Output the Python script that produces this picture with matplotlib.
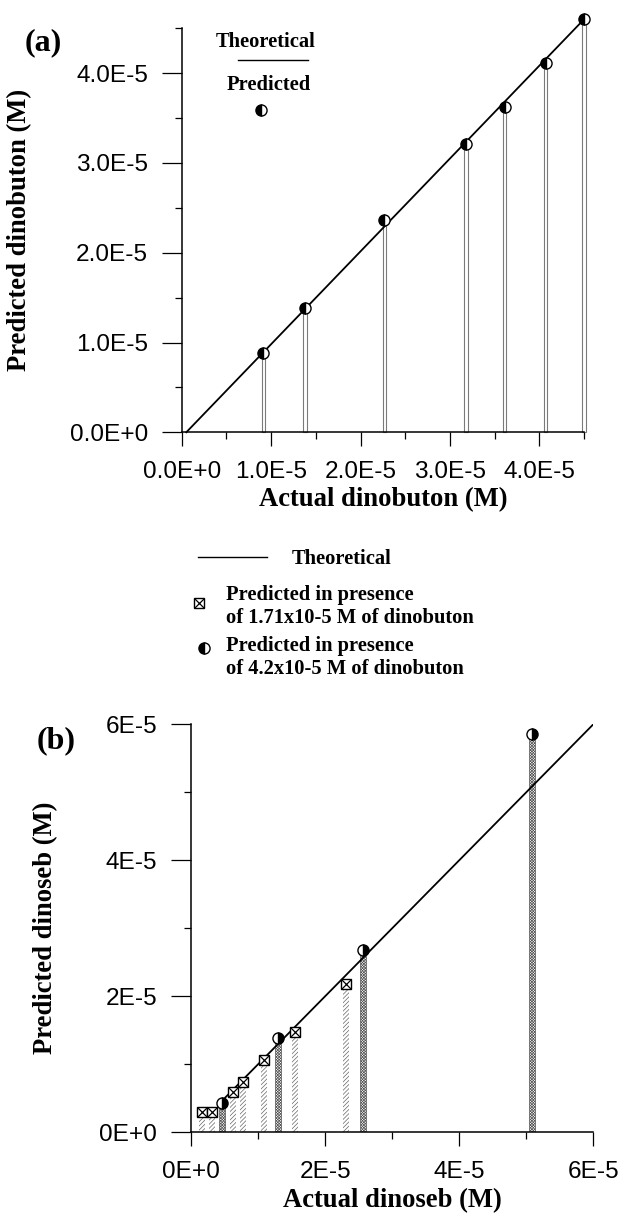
import numpy as np
import matplotlib
matplotlib.use("Agg")
import matplotlib.pyplot as plt
from matplotlib.ticker import FuncFormatter, MultipleLocator

# ---------------- data ----------------
# panel (a): dinobuton
a_actual = np.array([0.913, 1.378, 2.264, 3.18, 3.615, 4.07, 4.50]) * 1e-5
a_pred = np.array([0.88, 1.38, 2.365, 3.21, 3.625, 4.115, 4.605]) * 1e-5
a_theo_x = np.array([0.05, 4.50]) * 1e-5
a_theo_y = np.array([0.0, 4.60]) * 1e-5

# panel (b): dinoseb
b_sq_actual = np.array([0.16, 0.32, 0.63, 0.78, 1.09, 1.555, 2.31]) * 1e-5
b_sq_pred = np.array([0.30, 0.30, 0.59, 0.74, 1.07, 1.48, 2.18]) * 1e-5
b_ci_actual = np.array([0.46, 1.30, 2.57, 5.09]) * 1e-5
b_ci_pred = np.array([0.43, 1.38, 2.68, 5.86]) * 1e-5
b_theo_x = np.array([0.45, 6.0]) * 1e-5
b_theo_y = np.array([0.45, 6.0]) * 1e-5

a_label_x = "Actual dinobuton (M)"
a_label_y = "Predicted dinobuton (M)"
b_label_x = "Actual dinoseb (M)"
b_label_y = "Predicted dinoseb (M)"
leg_a = ["Theoretical", "Predicted"]
leg_b = ["Theoretical",
         "Predicted in presence", "of 1.71x10-5 M of dinobuton",
         "Predicted in presence", "of 4.2x10-5 M of dinobuton"]

# ---------------- style ----------------
W, H = 621, 1214
plt.rcParams['hatch.linewidth'] = 0.5
SANS = ['Liberation Sans', 'DejaVu Sans']
SERIF = ['Liberation Serif', 'DejaVu Serif']
TICK_FS = 17.6
LABEL_FS = 19.2
LEG_FS = 14.8
PANEL_FS = 23


def make_fmt(decimals):
    def f(v, pos):
        if abs(v) < 1e-12:
            m, e = 0.0, 0
        else:
            e = int(np.floor(np.log10(abs(v)) + 1e-9))
            m = v / 10 ** e
        return f"{m:.{decimals}f}E{e:+d}"
    return FuncFormatter(f)


def style_axes(ax, major, minor, decimals, xmax, ymax):
    for s in ['top', 'right']:
        ax.spines[s].set_visible(False)
    for s in ['left', 'bottom']:
        ax.spines[s].set_linewidth(1.1)
    ax.set_xlim(0, xmax)
    ax.set_ylim(0, ymax)
    for axis in (ax.xaxis, ax.yaxis):
        axis.set_major_locator(MultipleLocator(major))
        axis.set_minor_locator(MultipleLocator(minor))
        axis.set_major_formatter(make_fmt(decimals))
    ax.tick_params(axis='y', which='major', direction='out', length=14.4,
                   width=0.9, pad=10, labelsize=TICK_FS)
    ax.tick_params(axis='x', which='major', direction='out', length=10,
                   width=0.9, pad=11, labelsize=TICK_FS)
    ax.tick_params(which='minor', direction='out', length=4.7, width=0.9)
    for lab in ax.get_xticklabels() + ax.get_yticklabels():
        lab.set_family(SANS)


fig = plt.figure(figsize=(W / 100, H / 100), dpi=100)

# ---------------- panel (a) ----------------
axa = fig.add_axes([181.8 / W, 1 - 432.3 / H, 402.2 / W, 404 / H])
style_axes(axa, 1e-5, 0.5e-5, 1, 4.5e-5, 4.5e-5)
axa.bar(a_actual, a_pred, width=0.035e-5, facecolor='white',
        edgecolor='#7a7a7a', linewidth=0.8, zorder=1, clip_on=False)
axa.plot(a_theo_x, a_theo_y, color='black', lw=1.3, zorder=2, clip_on=False)
axa.plot(a_actual, a_pred, linestyle='none', marker='o', ms=8,
         fillstyle='left', markerfacecolor='black',
         markerfacecoloralt='white', markeredgecolor='black', mew=1.0,
         zorder=3, clip_on=False)
axa.set_xlabel(a_label_x, family=SERIF, fontweight='bold', fontsize=LABEL_FS,
               va='center')
axa.xaxis.set_label_coords(0.5, -0.1676)
axa.set_ylabel(a_label_y, family=SERIF, fontweight='bold', fontsize=LABEL_FS,
               va='center')
axa.yaxis.set_label_coords(-0.4025, 0.5)

# ---------------- panel (b) ----------------
axb = fig.add_axes([191 / W, 1 - 1132.3 / H, 402.3 / W, 408 / H])
style_axes(axb, 2e-5, 1e-5, 0, 6e-5, 6e-5)
axb.bar(b_sq_actual, b_sq_pred, width=0.09e-5, facecolor='white',
        edgecolor='#666666', linewidth=0, hatch='/' * 8, zorder=1)
axb.bar(b_ci_actual, b_ci_pred, width=0.09e-5, facecolor='white',
        edgecolor='#555555', linewidth=0.5, hatch='x' * 12, zorder=1)
axb.plot(b_theo_x, b_theo_y, color='black', lw=1.3, zorder=2)
axb.plot(b_sq_actual, b_sq_pred, linestyle='none', marker='s', ms=7.5,
         markerfacecolor='white', markeredgecolor='black', mew=1.0, zorder=3)
axb.plot(b_sq_actual, b_sq_pred, linestyle='none', marker='x', ms=7.5,
         markeredgecolor='black', mew=0.9, zorder=4)
axb.plot(b_ci_actual, b_ci_pred, linestyle='none', marker='o', ms=8,
         fillstyle='right', markerfacecolor='black',
         markerfacecoloralt='white', markeredgecolor='black', mew=1.0,
         zorder=3, clip_on=False)
axb.set_xlabel(b_label_x, family=SERIF, fontweight='bold', fontsize=LABEL_FS,
               va='center')
axb.xaxis.set_label_coords(0.5, -0.168)
axb.set_ylabel(b_label_y, family=SERIF, fontweight='bold', fontsize=LABEL_FS,
               va='center')
axb.yaxis.set_label_coords(-0.3604, 0.5)

# ---------------- overlay for legends and panel letters (pixel coords) ----------------
ov = fig.add_axes([0, 0, 1, 1], zorder=10)
ov.set_xlim(0, W)
ov.set_ylim(H, 0)
ov.axis('off')
ov.patch.set_alpha(0)

txt = dict(family=SERIF, fontweight='bold', color='black')
ov.text(43.5, 43, "(a)", fontsize=PANEL_FS, ha='center', va='center', **txt)
ov.text(56.4, 741, "(b)", fontsize=PANEL_FS, ha='center', va='center', **txt)

# legend (a)
ov.text(266, 46.7, leg_a[0], fontsize=LEG_FS, ha='center', va='baseline', **txt)
ov.plot([237.6, 308], [60, 60], color='black', lw=1.0)
ov.text(269, 90, leg_a[1], fontsize=LEG_FS, ha='center', va='baseline', **txt)
ov.plot([261.4], [110], marker='o', ms=8, fillstyle='left',
        markerfacecolor='black', markerfacecoloralt='white',
        markeredgecolor='black', mew=1.0)

# legend between panels
ov.plot([198, 267.3], [556.7, 556.7], color='black', lw=1.0)
ov.text(291.9, 564, leg_b[0], fontsize=LEG_FS, ha='left', va='baseline', **txt)
ov.plot([199.4], [602.5], marker='s', ms=7.5, markerfacecolor='white',
        markeredgecolor='black', mew=1.0)
ov.plot([199.4], [602.5], marker='x', ms=7.5, markeredgecolor='black', mew=0.9)
ov.text(225.7, 600, leg_b[1], fontsize=LEG_FS, ha='left', va='baseline', **txt)
ov.text(225.7, 623, leg_b[2], fontsize=LEG_FS, ha='left', va='baseline', **txt)
ov.plot([204], [647.5], marker='o', ms=8, fillstyle='left',
        markerfacecolor='black', markerfacecoloralt='white',
        markeredgecolor='black', mew=1.0)
ov.text(225.7, 651, leg_b[3], fontsize=LEG_FS, ha='left', va='baseline', **txt)
ov.text(225.7, 674, leg_b[4], fontsize=LEG_FS, ha='left', va='baseline', **txt)

fig.savefig("out.png", dpi=100, facecolor='white')
